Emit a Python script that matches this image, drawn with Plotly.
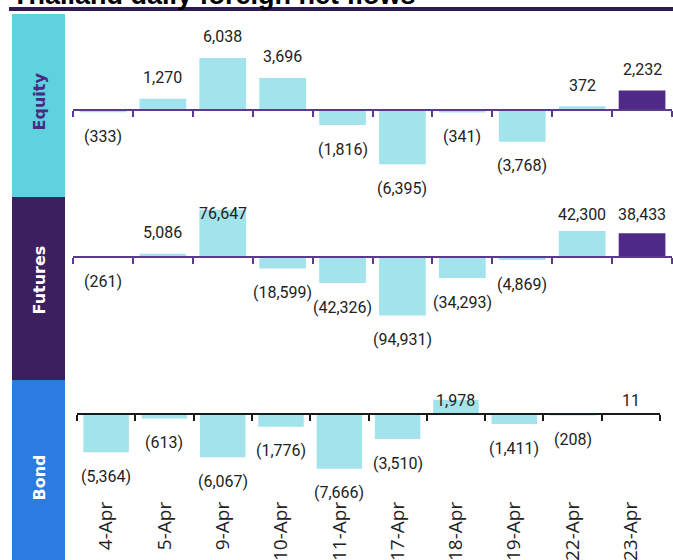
import plotly.graph_objects as go

# ---------------- data ----------------
dates = ["4-Apr", "5-Apr", "9-Apr", "10-Apr", "11-Apr", "17-Apr", "18-Apr", "19-Apr", "22-Apr", "23-Apr"]
equity = [-333, 1270, 6038, 3696, -1816, -6395, -341, -3768, 372, 2232]
futures = [-261, 5086, 76647, -18599, -42326, -94931, -34293, -4869, 42300, 38433]
bond = [-5364, -613, -6067, -1776, -7666, -3510, 1978, -1411, -208, 11]
panel_names = ["Equity", "Futures", "Bond"]
highlight = "23-Apr"
title_text = "Thailand daily foreign net flows"

# ---------------- style / layout constants ----------------
W, H = 673, 560
LIGHT = "#a3e4ec"
PURPLE = "#4f2a86"
AXIS_PURPLE = "#5a3a8c"
TEXT = "#222222"
BOX_COLORS = ["#5fd2e0", "#3b1f5f", "#2b7be0"]
SIDE_TEXT = ["#4b2a84", "#ffffff", "#ffffff"]


def px_x(p):
    return p / W


def px_y(p):
    return 1 - p / H


panels = [
    dict(top=14, bottom=197, zero=109.5, scale=117.0, xl=73, xr=672, lmin=28, axc=AXIS_PURPLE, label_y=102),
    dict(top=197, bottom=380, zero=257.0, scale=1625.0, xl=73, xr=672, lmin=214, axc=AXIS_PURPLE, label_y=280),
    dict(top=380, bottom=497, zero=414.0, scale=140.0, xl=77, xr=660, lmin=401, axc="#1a1a1a", label_y=478),
]
series = [equity, futures, bond]

n = len(dates)
xi = list(range(n))
bounds = [i - 0.5 for i in range(n + 1)]
colors = [PURPLE if d == highlight else LIGHT for d in dates]

fig = go.Figure()
annotations = []
shapes = []
layout = dict(
    width=W, height=H,
    margin=dict(l=0, r=0, t=0, b=0),
    paper_bgcolor="white", plot_bgcolor="white",
    showlegend=False,
    bargap=0.22,
)

for k, (p, vals) in enumerate(zip(panels, series)):
    sfx = "" if k == 0 else str(k + 1)
    fig.add_trace(go.Bar(
        x=xi, y=vals, marker=dict(color=colors, line=dict(width=0)),
        xaxis="x" + sfx, yaxis="y" + sfx, hoverinfo="skip",
    ))
    r1 = (p["zero"] - p["top"]) * p["scale"]
    r0 = -(p["bottom"] - p["zero"]) * p["scale"]
    d0, d1 = px_y(p["bottom"]), px_y(p["top"])
    zero_pos = d0 + (0 - r0) / (r1 - r0) * (d1 - d0)
    layout["yaxis" + sfx] = dict(
        domain=[d0, d1], range=[r0, r1], visible=False, fixedrange=True,
        anchor="x" + sfx,
    )
    layout["xaxis" + sfx] = dict(
        domain=[px_x(p["xl"]), px_x(p["xr"])], range=[-0.5, n - 0.5],
        anchor="free", position=zero_pos,
        showline=True, linecolor=p["axc"], linewidth=2,
        ticks="outside", tickvals=bounds, ticklen=6, tickwidth=2, tickcolor=p["axc"],
        showticklabels=False, showgrid=False, zeroline=False, fixedrange=True,
    )
    for i, v in enumerate(vals):
        end_px = p["zero"] - v / p["scale"]
        lab_px = end_px - 21 if v >= 0 else end_px + 24
        lab_px = max(lab_px, p["lmin"])
        txt = f"{v:,}" if v >= 0 else f"({abs(v):,})"
        annotations.append(dict(
            x=i, y=v, xref="x" + sfx, yref="y" + sfx, text=txt, showarrow=False,
            yshift=end_px - lab_px, yanchor="middle", xanchor="center",
            font=dict(family="Roboto", size=16, color=TEXT),
        ))
    shapes.append(dict(
        type="rect", xref="paper", yref="paper",
        x0=px_x(12), x1=px_x(65), y0=px_y(p["bottom"] if k < 2 else H), y1=px_y(p["top"]),
        fillcolor=BOX_COLORS[k], line=dict(width=0), layer="below",
    ))
    annotations.append(dict(
        x=px_x(38.5), y=px_y(p["label_y"]), xref="paper", yref="paper",
        text="<b>" + panel_names[k] + "</b>", textangle=-90, showarrow=False,
        xanchor="center", yanchor="middle",
        font=dict(family="DejaVu Sans", size=16, color=SIDE_TEXT[k]),
    ))

bp = panels[2]
fig.add_trace(go.Scatter(
    x=xi, y=[0] * n, xaxis="x4", yaxis="y3", mode="markers",
    marker=dict(opacity=0, size=1), hoverinfo="skip", showlegend=False,
))
layout["xaxis4"] = dict(
    domain=[px_x(bp["xl"]), px_x(bp["xr"])], range=[-0.5, n - 0.5],
    overlaying="x3", anchor="y3", side="bottom",
    tickvals=xi, ticktext=dates, tickangle=-90, ticks="",
    tickfont=dict(family="Open Sans", size=19, color=TEXT),
    showline=False, showgrid=False, zeroline=False, fixedrange=True,
)

annotations.append(dict(
    x=px_x(10), y=px_y(12), xref="paper", yref="paper", text="<b>" + title_text + "</b>",
    showarrow=False, xanchor="left", yanchor="bottom",
    font=dict(family="Liberation Sans", size=27, color="#000000"),
))
shapes.append(dict(
    type="rect", xref="paper", yref="paper",
    x0=px_x(9), x1=1, y0=px_y(11), y1=px_y(7),
    fillcolor="#2e1a52", line=dict(width=0), layer="above",
))

layout["annotations"] = annotations
layout["shapes"] = shapes
fig.update_layout(**layout)
fig.write_html(
    "out.html",
    config={"displayModeBar": False, "staticPlot": True},
    post_script="document.body.style.margin='0';document.body.style.overflow='hidden';",
)
